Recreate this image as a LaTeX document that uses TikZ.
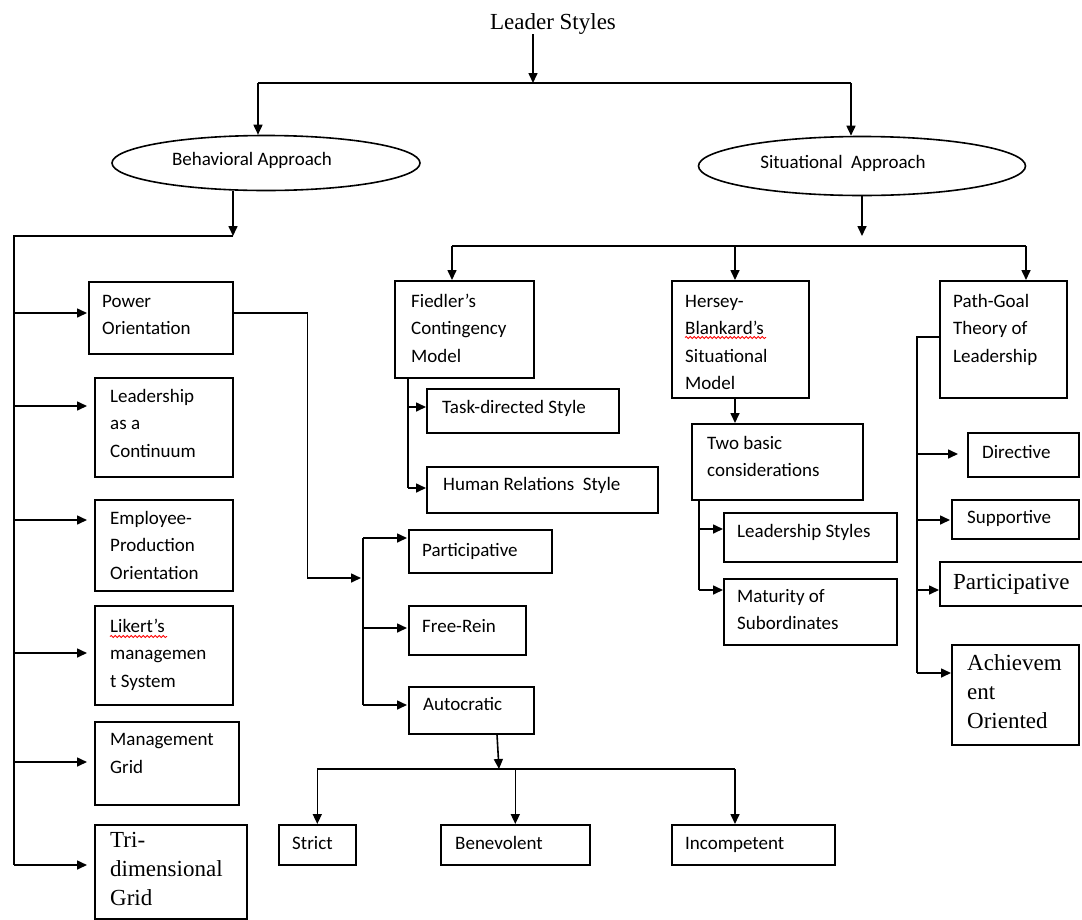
\documentclass[tikz,border=0pt]{standalone}
\usepackage{fontspec}
\newfontfamily\calfont{Carlito}
\newfontfamily\serfont{Liberation Serif}
\usetikzlibrary{arrows.meta,calc,shapes.geometric,decorations.pathmorphing}
\begin{document}
\begin{tikzpicture}[x=1pt,y=-1pt,
  box/.style={draw, line width=1.6pt, rectangle, inner sep=0pt, anchor=north west},
  ell/.style={draw, line width=1.6pt, ellipse, inner sep=0pt},
  arr/.style={line width=1.6pt, -{Triangle[length=10pt,width=9pt]}},
  ln/.style={line width=1.6pt},
  sf/.style={inner sep=0pt, anchor=base west, align=left, font=\calfont\fontsize{19}{27.5}\selectfont},
  rm/.style={inner sep=0pt, anchor=base west, align=left, font=\serfont\fontsize{23}{29}\selectfont},
  wavy/.style={draw=red, line width=0.8pt, decorate, decoration={snake, amplitude=1.1pt, segment length=4pt}}]
\useasboundingbox (0,0) rectangle (1082,919);
\clip (0,0) rectangle (1082,919);
\fill[white] (0,0) rectangle (1082,919);

% title and ellipses
\node[rm, anchor=base] (title) at (553,29) {Leader Styles};
\node[ell, minimum width=308pt, minimum height=55pt] (beh) at (266,163) {};
\node[sf, anchor=base] (behtxt) at (252,165) {Behavioral Approach};
\node[ell, minimum width=327pt, minimum height=59pt] (sit) at (862,166) {};
\node[sf, anchor=base] (sittxt) at (843,168) {Situational~ Approach};

% left column boxes (text anchored at the baseline of its last line)
\node[box, minimum width=144pt, minimum height=72pt] (power) at (88,281) {};
\node[sf] (powert) at (102,334.5) {Power\\Orientation};
\node[box, minimum width=138pt, minimum height=99pt] (cont) at (94,377) {};
\node[sf] (contt) at (110,457) {Leadership\\as a\\Continuum};
\node[box, minimum width=138pt, minimum height=91pt] (emp) at (94,499) {};
\node[sf] (empt) at (110,579) {Employee-\\Production\\Orientation};
\node[box, minimum width=138pt, minimum height=99pt] (likert) at (94,605) {};
\node[sf] (likertt) at (110,687) {Likert’s\\managemen\\t System};
\node[box, minimum width=144pt, minimum height=83pt] (mgrid) at (94,721) {};
\node[sf] (mgridt) at (110,773) {Management\\Grid};
\node[box, minimum width=152pt, minimum height=94pt] (tri) at (94,824) {};
\node[rm] (trit) at (110,905) {Tri-\\dimensional\\Grid};

% middle boxes
\node[box, minimum width=139pt, minimum height=97pt] (fied) at (394,280) {};
\node[sf] (fiedt) at (411,362) {Fiedler’s\\Contingency\\Model};
\node[box, minimum width=192pt, minimum height=44pt] (task) at (426,388) {};
\node[sf] (taskt) at (442,413) {Task-directed Style};
\node[box, minimum width=231pt, minimum height=46pt] (human) at (426,466) {};
\node[sf] (humant) at (443,490) {Human Relations~ Style};
\node[box, minimum width=143pt, minimum height=43pt] (part1) at (408,529) {};
\node[sf] (part1t) at (422,556) {Participative};
\node[box, minimum width=117pt, minimum height=49pt] (free) at (408,605) {};
\node[sf] (freet) at (422,632) {Free-Rein};
\node[box, minimum width=125pt, minimum height=47pt] (auto) at (408,686) {};
\node[sf] (autot) at (423,710) {Autocratic};
\node[box, minimum width=77pt, minimum height=40pt] (strict) at (278,824) {};
\node[sf] (strictt) at (292,849) {Strict};
\node[box, minimum width=149pt, minimum height=40pt] (benev) at (440,824) {};
\node[sf] (benevt) at (455,849) {Benevolent};
\node[box, minimum width=163pt, minimum height=40pt] (incomp) at (671,824) {};
\node[sf] (incompt) at (685,849) {Incompetent};

% Hersey column
\node[box, minimum width=137pt, minimum height=117pt] (hers) at (671,280) {};
\node[sf] (herst) at (685,389.5) {Hersey-\\Blankard’s\\Situational\\Model};
\node[box, minimum width=171pt, minimum height=76pt] (two) at (691,423) {};
\node[sf] (twot) at (707,476.5) {Two basic\\considerations};
\node[box, minimum width=173pt, minimum height=49pt] (lstyle) at (723,512) {};
\node[sf] (lstylet) at (737,537) {Leadership Styles};
\node[box, minimum width=173pt, minimum height=66pt] (mat) at (723,578) {};
\node[sf] (matt) at (737,629.5) {Maturity of\\Subordinates};

% Path-goal column
\node[box, minimum width=127pt, minimum height=117pt] (path) at (939,280) {};
\node[sf] (patht) at (953,362) {Path-Goal\\Theory of\\Leadership};
\node[box, minimum width=111pt, minimum height=44pt] (dir) at (967,432) {};
\node[sf] (dirt) at (982,458) {Directive};
\node[box, minimum width=127pt, minimum height=39pt] (sup) at (951,499) {};
\node[sf] (supt) at (967,523) {Supportive};
\node[box, minimum width=150pt, minimum height=44pt] (part2) at (939,561) {};
\node[rm] (part2t) at (953,589) {Participative};
\node[box, minimum width=127pt, minimum height=100pt] (ach) at (951,644) {};
\node[rm] (acht) at (967,728) {Achievem\\ent\\Oriented};

% spell-check underlines
\draw[wavy] (110,636.5) -- (167,636.5);
\draw[wavy] (685,337.5) -- (766,337.5);

% top connectors
\coordinate (j0) at (533,83);
\draw[arr] (title.south -| j0) -- (j0);
\coordinate (jb) at (258,83);
\coordinate (js) at (851,83);
\draw[ln] (jb) -- (js);
\draw[arr] (jb) -- (jb |- beh.north);
\draw[arr] (js) -- (js |- sit.north);

% behavioral branch
\coordinate (bl) at (233,236);
\coordinate (trunk) at (14,236);
\draw[arr] (bl |- beh.south) -- (bl);
\coordinate (a1) at ($(power.north west)+(-1,32)$);
\coordinate (a2) at ($(cont.north west)+(-7,29)$);
\coordinate (a3) at ($(emp.north west)+(-7,21)$);
\coordinate (a4) at ($(likert.north west)+(-7,48)$);
\coordinate (a5) at ($(mgrid.north west)+(-7,41)$);
\coordinate (a6) at ($(tri.north west)+(-7,41)$);
\draw[ln] (bl) -- (trunk) -- (trunk |- a6);
\foreach \a in {a1,a2,a3,a4,a5,a6} \draw[arr] (trunk |- \a) -- (\a);

% power orientation branch
\coordinate (pj) at (361,578);
\draw[arr] ($(power.north east)+(0,32)$) -- ++(74,0) |- (pj);
\coordinate (mv) at (363,578);
\coordinate (m1) at ($(part1.north west)+(-1,9)$);
\coordinate (m2) at ($(free.north west)+(-1,23)$);
\coordinate (m3) at ($(auto.north west)+(-1,19)$);
\draw[ln] (mv |- m1) -- (mv |- m3);
\foreach \m in {m1,m2,m3} \draw[arr] (mv |- \m) -- (\m);

% autocratic branch
\coordinate (aj) at (499,769);
\coordinate (ij) at ($(incomp.north west)+(64,0)$);
\draw[arr] ($(auto.south west)+(89,0)$) -- (aj);
\draw[ln] (strict.north |- aj) -- (ij |- aj);
\draw[arr] (strict.north |- aj) -- (strict.north);
\draw[arr] (benev.north |- aj) -- (benev.north);
\draw[arr] (ij |- aj) -- (ij);

% situational branch
\coordinate (sj) at (862,236);
\draw[arr] (sj |- sit.south) -- (sj);
\coordinate (sl) at (452,246);
\coordinate (fa) at ($(fied.north west)+(58,0)$);
\coordinate (ha) at ($(hers.north west)+(64,0)$);
\coordinate (pga) at ($(path.north west)+(87,0)$);
\draw[ln] (fa |- sl) -- (pga |- sl);
\draw[arr] (fa |- sl) -- (fa);
\draw[arr] (ha |- sl) -- (ha);
\draw[arr] (pga |- sl) -- (pga);

% Fiedler branch
\coordinate (fj) at ($(fied.south west)+(14,0)$);
\coordinate (t1) at ($(task.north west)+(0,19)$);
\coordinate (h1) at ($(human.north west)+(0,22)$);
\draw[ln] (fj) -- (fj |- h1);
\draw[arr] (fj |- t1) -- (t1);
\draw[arr] (fj |- h1) -- (h1);

% Hersey branch
\draw[arr] (ha |- hers.south) -- (ha |- two.north);
\coordinate (tj) at ($(two.south west)+(8,0)$);
\coordinate (l1) at ($(lstyle.north west)+(0,17)$);
\coordinate (l2) at ($(mat.north west)+(0,12)$);
\draw[ln] (tj) -- (tj |- l2);
\draw[arr] (tj |- l1) -- (l1);
\draw[arr] (tj |- l2) -- (l2);

% Path-goal branch
\coordinate (pl) at ($(path.north west)+(0,57)$);
\coordinate (pv) at (917,337);
\coordinate (d1) at ($(dir.north west)+(-9,22)$);
\coordinate (d2) at ($(sup.north west)+(-1,21)$);
\coordinate (d3) at ($(part2.north west)+(0,29)$);
\coordinate (d4) at ($(ach.north west)+(0,29)$);
\draw[ln] (pl) -- (pv) -- (pv |- d4);
\foreach \d in {d1,d2,d3,d4} \draw[arr] (pv |- \d) -- (\d);
\end{tikzpicture}
\end{document}
